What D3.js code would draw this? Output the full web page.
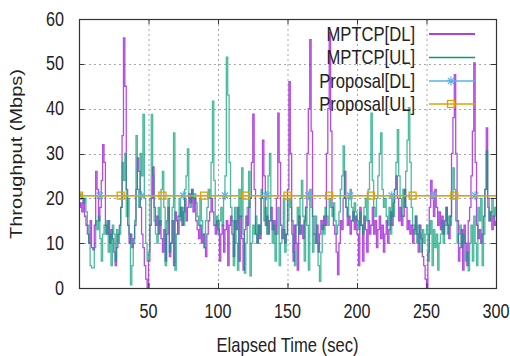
<!DOCTYPE html>
<html>
<head>
<meta charset="utf-8">
<script src="https://cdn.jsdelivr.net/npm/d3@7/dist/d3.min.js"></script>
<style>
  html, body { margin: 0; padding: 0; background: #fff; }
  svg { display: block; }
  text { font-family: 'Liberation Sans', Arial, sans-serif; fill: #222; }
</style>
</head>
<body>
<div id="chart"></div>
<script>
// values, one per second (t = 0..300)
const mptcpDL = [
  18, 19, 17, 20, 16, 14, 12, 10, 15, 9,
  8.5, 14, 26, 22, 15, 18, 24, 32, 28, 14,
  12, 15, 10, 13, 11, 8, 5, 9, 12, 14,
  18, 34, 55.8, 45, 22, 14, 10, 12, 9, 11,
  14, 22, 29, 26, 18, 12, 9, 5, 2, 0,
  6, 14, 20, 27, 18, 14, 16, 12, 15, 11,
  8, 13, 6, 12, 18, 7, 10, 15, 5, 17,
  15, 12, 16, 18, 14, 17, 20, 15, 18, 21,
  19, 22, 17, 20, 15, 13, 11, 14, 10, 12,
  9, 7, 12, 15, 17, 20, 17, 14, 12, 15,
  13, 6, 12, 14, 8, 13, 15, 5, 14, 16,
  12, 7, 15, 13, 18, 6, 16, 11, 4, 13,
  16, 14, 18, 20, 28, 38.8, 22, 12, 10, 14,
  11, 20, 33, 25, 14, 16, 12, 15, 18, 13,
  15, 12, 20, 39, 28, 14, 11, 13, 10, 12,
  22, 46, 30, 15, 6, 14, 10, 4, 16, 12,
  14, 11, 15, 18, 30, 40, 55.4, 35, 16, 12,
  10, 14, 8, 12, 15, 13, 16, 14, 30, 40,
  57, 35, 18, 14, 12, 8, 3, 10, 15, 13,
  20, 26, 18, 14, 16, 12, 15, 17, 13, 16,
  12, 5, 18, 14, 6, 16, 13, 8, 15, 12,
  14, 18, 12, 15, 9, 13, 16, 11, 14, 8,
  12, 15, 10, 13, 17, 14, 19, 22, 25, 20,
  15, 18, 14, 16, 22, 18, 13, 15, 12, 14,
  10, 13, 16, 12, 8, 14, 11, 7, 5, 2,
  0, 8, 18, 24, 20, 16, 22, 18, 14, 17,
  13, 16, 12, 15, 18, 14, 11, 16, 30, 38,
  47.6, 30, 15, 6, 9, 13, 4, 14, 10, 5,
  15, 18, 25, 35, 50.2, 28, 14, 11, 13, 10,
  12, 16, 22, 35.7, 20, 15, 17, 13, 16, 14, 15
]

const mptcpUL = [
  20.4, 21, 20, 19, 20, 17, 14, 10, 5, 4.5,
  4.5, 9, 15, 13, 16, 11, 6, 12, 14, 12,
  15, 8, 12, 5, 14, 12, 6, 13, 10, 12,
  18, 28, 24, 30, 16, 20, 12, 0.7, 5, 10,
  15, 34, 22, 18, 30, 25, 38.7, 20, 10, 6,
  8, 20, 38.7, 25, 15, 12, 10, 18, 14, 22,
  26, 18, 5, 15, 20, 8, 10, 18, 34.6, 4,
  12, 16, 20, 15, 18, 14, 22, 25, 31, 20,
  18, 22, 20, 21, 19, 16, 14, 20, 15, 12,
  9, 15, 18, 22, 20, 28, 41.7, 24, 14, 16,
  12, 15, 18, 14, 20, 25, 51.5, 43, 28, 18,
  15, 5, 18, 10, 4, 22, 16, 26.8, 12, 3.3,
  10, 18, 26, 2.7, 10, 14, 12, 16, 10, 14,
  12, 22, 20, 15, 18, 12, 25, 30, 15, 10,
  14, 6, 12, 18, 5, 10, 13, 20, 8, 12,
  15, 20, 18, 12, 8, 5, 14, 18, 12, 20,
  24, 16, 6, 18, 14, 4, 22, 18, 8, 12,
  16, 10, 5, 1.5, 8, 14, 12, 18, 16, 14,
  20, 18, 16, 19, 15, 12, 14, 17, 22, 25,
  31.7, 20, 18, 16, 20, 22, 18, 15, 19, 17,
  15, 13, 17, 14, 12, 18, 20, 15, 22, 28,
  39, 24, 18, 16, 20, 25, 30, 34.6, 22, 18,
  20, 16, 14, 18, 12, 20, 16, 22, 28, 35.3,
  25, 20, 16, 22, 18, 26, 33, 40.2, 28, 18,
  14, 12, 16, 10, 14, 12, 8, 13, 10, 12,
  14, 6, 12, 15, 5, 13, 9, 12, 4, 10,
  12, 15, 10, 14, 18, 12, 16, 14, 20, 26.8,
  22, 15, 10, 12, 14, 9, 12, 10, 6, 8,
  3.8, 10, 14, 6, 16, 10, 5, 18, 15, 20,
  5, 12, 22, 30.6, 18, 15, 17, 20, 16, 18, 16
]

// proposal series, one point every 15 s
const propTimes = [0, 15, 30, 45, 60, 75, 90, 105, 120, 135, 150, 165, 180, 195, 210, 225, 240, 255, 270, 285, 300]
const propDL = [20.6, 20.6, 20.6, 20.6, 20.6, 20.6, 20.6, 20.6, 20.6, 20.6, 20.6, 20.6, 20.6, 20.6, 20.6, 20.6, 20.6, 20.6, 20.6, 20.6, 20.6]
const propUL = [20.6, 20.6, 20.6, 20.6, 20.6, 20.6, 20.6, 20.6, 20.6, 20.6, 20.6, 20.6, 20.6, 20.6, 20.6, 20.6, 20.6, 20.6, 20.6, 20.6, 20.6]

const xTicks = [50, 100, 150, 200, 250, 300]
const yTicks = [0, 10, 20, 30, 40, 50, 60]
const seriesNames = ['MPTCP[DL]', 'MPTCP[UL]', 'Proposal[DL]', 'Proposal[UL]']

const colors = {
  dl: '#9400d3',
  ul: '#009e73',
  pdl: '#56b4e9',
  pul: '#e69f00'
}

const W = 510, H = 356
const plot = { left: 79, right: 496, top: 19, bottom: 288 }
const squeeze = 0.83 // horizontal text is drawn condensed in the reference

const svg = d3.select('#chart').append('svg')
  .attr('width', W)
  .attr('height', H)

const x = d3.scaleLinear().domain([0, 300]).range([plot.left, plot.right])
const y = d3.scaleLinear().domain([0, 60]).range([plot.bottom, plot.top])

svg.append('clipPath').attr('id', 'clip')
  .append('rect')
  .attr('x', plot.left).attr('y', plot.top)
  .attr('width', plot.right - plot.left)
  .attr('height', plot.bottom - plot.top)

// grid
const grid = svg.append('g').attr('stroke', '#a8a8a8').attr('stroke-dasharray', '2,3')
grid.selectAll('.gx').data(xTicks.filter(d => d < 300)).join('line')
  .attr('x1', d => x(d) + 0.5).attr('x2', d => x(d) + 0.5)
  .attr('y1', plot.top).attr('y2', plot.bottom)
grid.selectAll('.gy').data(yTicks.filter(d => d > 0 && d < 60)).join('line')
  .attr('class', 'gy')
  .attr('x1', plot.left).attr('x2', plot.right)
  .attr('y1', d => Math.round(y(d)) + 0.5).attr('y2', d => Math.round(y(d)) + 0.5)

// series
const series = svg.append('g').attr('clip-path', 'url(#clip)')
const stepLine = d3.line()
  .x((d, i) => x(i))
  .y(d => y(d))
  .curve(d3.curveStepAfter)

series.append('path')
  .attr('d', stepLine(mptcpDL))
  .attr('fill', 'none')
  .attr('stroke', colors.dl)
  .attr('stroke-width', 1.3)
  .attr('stroke-opacity', 0.7)

series.append('path')
  .attr('d', stepLine(mptcpUL))
  .attr('fill', 'none')
  .attr('stroke', colors.ul)
  .attr('stroke-width', 1.3)
  .attr('stroke-opacity', 0.7)

const propLine = d3.line()
  .x((d, i) => x(propTimes[i]))
  .y(d => y(d))

function star(g, cx, cy, col) {
  const r = 4.5
  return g.append('path')
    .attr('d', `M${cx - r},${cy}H${cx + r}M${cx},${cy - r}V${cy + r}` +
      `M${cx - r * 0.7},${cy - r * 0.7}L${cx + r * 0.7},${cy + r * 0.7}` +
      `M${cx - r * 0.7},${cy + r * 0.7}L${cx + r * 0.7},${cy - r * 0.7}`)
    .attr('stroke', col)
    .attr('stroke-width', 1.2)
    .attr('fill', 'none')
}

function square(g, cx, cy, col) {
  return g.append('rect')
    .attr('x', cx - 3.5).attr('y', cy - 3.5)
    .attr('width', 7).attr('height', 7)
    .attr('fill', 'none')
    .attr('stroke', col)
    .attr('stroke-width', 1.3)
}

series.append('path')
  .attr('d', propLine(propDL))
  .attr('fill', 'none')
  .attr('stroke', colors.pdl)
  .attr('stroke-width', 1.3)
propTimes.forEach((t, i) => {
  if (i % 2 === 1) star(series, x(t), y(propDL[i]), colors.pdl)
})

series.append('path')
  .attr('d', propLine(propUL))
  .attr('fill', 'none')
  .attr('stroke', colors.pul)
  .attr('stroke-width', 1.5)
propTimes.forEach((t, i) => {
  if (i % 2 === 0 && t < 300) square(series, x(t), y(propUL[i]), colors.pul)
})

// ticks on all four sides (gnuplot mirror style)
const ticks = svg.append('g').attr('stroke', '#333').attr('stroke-width', 1)
xTicks.forEach(t => {
  ticks.append('line').attr('x1', x(t) + 0.5).attr('x2', x(t) + 0.5)
    .attr('y1', plot.bottom).attr('y2', plot.bottom - 5)
  ticks.append('line').attr('x1', x(t) + 0.5).attr('x2', x(t) + 0.5)
    .attr('y1', plot.top).attr('y2', plot.top + 5)
})
yTicks.forEach(t => {
  const yy = Math.round(y(t)) + 0.5
  ticks.append('line').attr('x1', plot.left).attr('x2', plot.left + 5).attr('y1', yy).attr('y2', yy)
  ticks.append('line').attr('x1', plot.right).attr('x2', plot.right - 5).attr('y1', yy).attr('y2', yy)
})

// border
svg.append('rect')
  .attr('x', plot.left + 0.5).attr('y', plot.top + 0.5)
  .attr('width', plot.right - plot.left)
  .attr('height', plot.bottom - plot.top)
  .attr('fill', 'none')
  .attr('stroke', '#333')
  .attr('stroke-width', 1.2)

// tick labels
function label(px, py, txt, anchor, size) {
  return svg.append('text')
    .attr('transform', `translate(${px},${py}) scale(${squeeze},1)`)
    .attr('text-anchor', anchor)
    .attr('font-size', size)
    .text(txt)
}

xTicks.forEach(t => label(x(t), 317.5, t, 'middle', 19.5))
yTicks.forEach(t => label(64, y(t) + 6.5, t, 'end', 19.5))

// axis titles
label((plot.left + plot.right) / 2, 351.5, 'Elapsed Time (sec)', 'middle', 20)
svg.append('text')
  .attr('transform', `translate(22,154) rotate(-90) scale(1,${squeeze})`)
  .attr('text-anchor', 'middle')
  .attr('font-size', 20)
  .text('Throughput (Mbps)')

// legend
const legendRows = [34, 57.5, 81, 104]
const legendColors = [colors.dl, colors.ul, colors.pdl, colors.pul]
seriesNames.forEach((name, i) => {
  const ly = legendRows[i]
  label(415, ly + 6.5, name, 'end', 20)
  svg.append('line')
    .attr('x1', 429).attr('x2', 475)
    .attr('y1', ly).attr('y2', ly)
    .attr('stroke', legendColors[i])
    .attr('stroke-width', i === 3 ? 1.5 : 1.3)
  if (i === 2) star(svg, 451, ly, colors.pdl)
  if (i === 3) square(svg, 451, ly, colors.pul)
})
</script>
</body>
</html>
